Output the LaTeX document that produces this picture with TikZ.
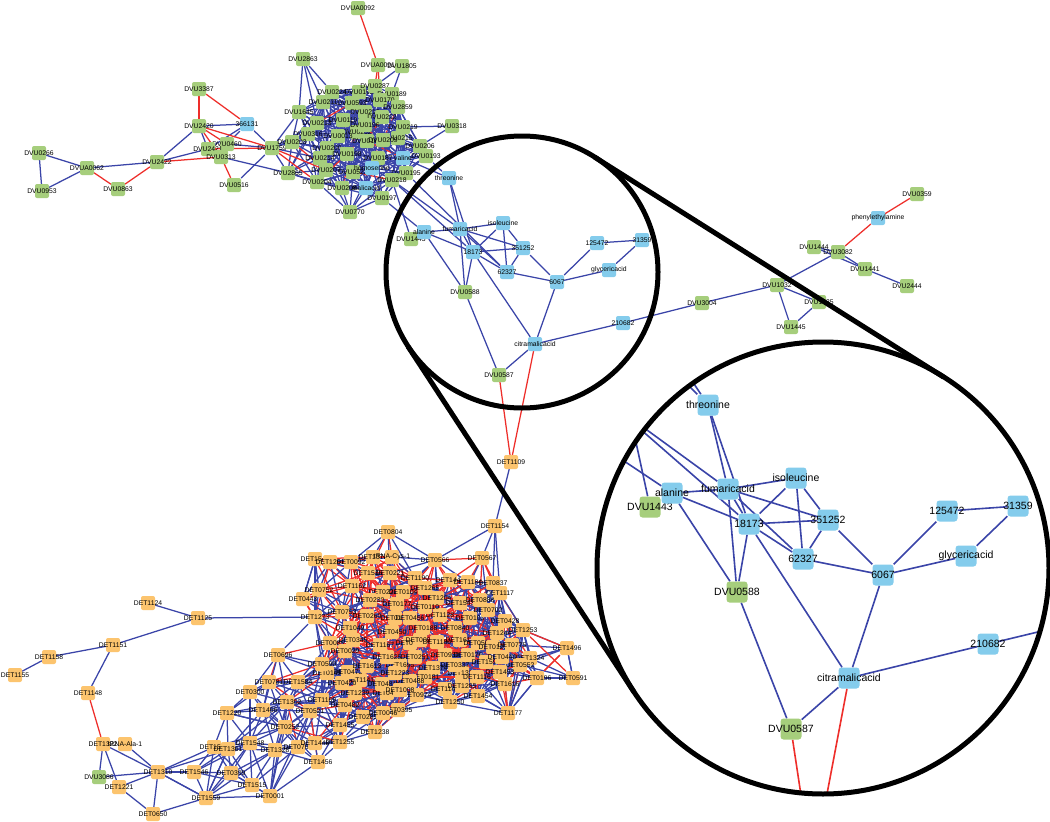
\documentclass[tikz,border=0pt]{standalone}
\usepackage{fontspec}
\setmainfont{Liberation Sans}
\usetikzlibrary{calc}
\definecolor{ngreen}{RGB}{166,206,124}
\definecolor{nblue}{RGB}{132,204,236}
\definecolor{norange}{RGB}{252,196,110}
\definecolor{eblue}{RGB}{58,68,168}
\definecolor{ered}{RGB}{238,46,42}
\pgfdeclarelayer{paper}
\pgfdeclarelayer{background}
\pgfsetlayers{paper,background,main}
\tikzset{
  slbl/.style={font=\fontsize{6.8}{7}\selectfont, inner sep=0pt, text=black},
  mlbl/.style={font=\fontsize{10.5}{12}\selectfont, inner sep=0pt, text=black},
  nd/.style={rectangle, rounded corners=2pt, minimum size=14pt, inner sep=0pt, draw=none},
  gn/.style={nd, fill=ngreen, label={[slbl]center:#1}},
  bn/.style={nd, fill=nblue, label={[slbl]center:#1}},
  on/.style={nd, fill=norange, label={[slbl]center:#1}},
  md/.style={rectangle, rounded corners=3pt, minimum size=21pt, inner sep=0pt, draw=none},
  mg/.style={md, fill=ngreen, label={[mlbl]center:#1}},
  mb/.style={md, fill=nblue, label={[mlbl]center:#1}},
  edge/.style={line width=1.25pt, line cap=round},
  be/.style={edge, draw=eblue},
  re/.style={edge, draw=ered},
  mbe/.style={line width=1.6pt, draw=eblue},
  mre/.style={line width=1.6pt, draw=ered},
  lens/.style={line width=5pt, draw=black}
}
\begin{document}
\begin{tikzpicture}[x=1pt,y=-1pt]
\useasboundingbox (0,0) rectangle (1050,822);
\begin{pgfonlayer}{paper}
\fill[white] (0,0) rectangle (1050,822);
\end{pgfonlayer}

% ---------- top-left satellites ----------
\node[gn=DVU3387] (DVU3387) at (199,89) {};
\node[bn=366131] (n366131) at (247,124) {};
\node[gn=DVU2420] (DVU2420) at (199,126) {};
\node[gn=DVU0460] (DVU0460) at (227,144) {};
\node[gn=DVU2421] (DVU2421) at (208,149) {};
\node[gn=DVU0313] (DVU0313) at (221,157) {};
\node[gn=DVU1759] (DVU1759) at (272,148) {};
\node[gn=DVU0516] (DVU0516) at (234,185) {};
\node[gn=DVU2422] (DVU2422) at (157,162) {};
\node[gn=DVUA0062] (DVUA0062) at (87,168) {};
\node[gn=DVU0266] (DVU0266) at (39,153) {};
\node[gn=DVU0953] (DVU0953) at (42,191) {};
\node[gn=DVU0863] (DVU0863) at (118,189) {};
\node[gn=DVU2863] (DVU2863) at (303,59) {};
\node[gn=DVUA0092] (DVUA0092) at (358,8) {};
\node[gn=DVUA0091] (DVUA0091) at (378,65) {};
\node[gn=DVU1805] (DVU1805) at (402,66) {};
\node[gn=DVU0318] (DVU0318) at (452,126) {};

% ---------- top dense cluster ----------
\foreach \x/\y/\t/\c [count=\n] in {
332/92/DVU0224/ngreen, 359/92/DVU0192/ngreen, 375/86/DVU0287/ngreen, 392/94/DVU0189/ngreen,
323/102/DVU0211/ngreen, 352/103/DVU0593/ngreen, 380/100/DVU0170/ngreen, 398/107/DVU2859/ngreen,
299/112/DVU1645/ngreen, 365/112/DVU0212/ngreen, 343/120/DVU0110/ngreen, 382/117/DVU0222/ngreen,
317/123/DVU0213/ngreen, 403/127/DVU0219/ngreen, 308/134/DVU0316/ngreen, 357/132/DVU0202/ngreen,
338/136/DVU0013/ngreen, 398/138/DVU0215/ngreen, 367/141/DVU0188/ngreen, 383/140/DVU0209/ngreen,
292/142/DVU0203/ngreen, 420/146/DVU0206/ngreen, 327/148/DVU0200/ngreen, 426/156/DVU0193/ngreen,
320/158/DVU0214/ngreen, 347/154/DVU0198/ngreen, 378/158/DVU0187/ngreen, 326/170/DVU0207/ngreen,
353/172/DVU0523/ngreen, 288/173/DVU2865/ngreen, 406/173/DVU0195/ngreen, 392/180/DVU0218/ngreen,
317/182/DVU0204/ngreen, 342/188/DVU0208/ngreen, 382/198/DVU0197/ngreen, 350/212/DVU0770/ngreen,
365/125/DVU0196/ngreen, 403/158/valine/nblue, 372/168/homoserine/nblue, 366/188/malicacid/nblue}{
  \node[nd, fill=\c, label={[slbl]center:\t}] (\t) at (\x,\y) {};
  \expandafter\xdef\csname tX\n\endcsname{\x}
  \expandafter\xdef\csname tY\n\endcsname{\y}
  \expandafter\xdef\csname tN\n\endcsname{\t}
  \xdef\tcount{\n}
}

% ---------- right group ----------
\node[gn=DVU0359] (DVU0359) at (917,194) {};
\node[bn=phenylethylamine] (phen) at (878,218) {};
\node[gn=DVU1444] (DVU1444) at (814,247) {};
\node[gn=DVU3082] (DVU3082) at (838,252) {};
\node[gn=DVU1441] (DVU1441) at (865,269) {};
\node[gn=DVU2444] (DVU2444) at (907,286) {};
\node[gn=DVU1032] (DVU1032) at (777,285) {};
\node[gn=DVU1035] (DVU1035) at (819,302) {};
\node[gn=DVU1445] (DVU1445) at (791,327) {};
\node[gn=DVU3004] (DVU3004) at (702,303) {};

% ---------- small circle nodes ----------
\node[gn=DVU1443] (s1443) at (411,239) {};
\node[bn=alanine] (sala) at (424,232) {};
\node[bn=threonine] (sthr) at (449,178) {};
\node[bn=fumaricacid] (sfum) at (460,229) {};
\node[bn=isoleucine] (siso) at (503,223) {};
\node[bn=18173] (s18173) at (473,252) {};
\node[bn=351252] (s351252) at (523,248) {};
\node[bn=62327] (s62327) at (507,272) {};
\node[bn=6067] (s6067) at (557,282) {};
\node[bn=125472] (s125472) at (597,243) {};
\node[bn=31359] (s31359) at (642,240) {};
\node[bn=glycericacid] (sgly) at (609,270) {};
\node[gn=DVU0588] (s0588) at (465,292) {};
\node[bn=210682] (s210682) at (623,323) {};
\node[bn=citramalicacid] (scit) at (535,344) {};
\node[gn=DVU0587] (s0587) at (499,375) {};

% ---------- bottom satellites ----------
\node[on=DET1109] (DET1109) at (511,462) {};
\node[on=DET1154] (DET1154) at (495,526) {};
\node[on=DET1124] (DET1124) at (148,603) {};
\node[on=DET1125] (DET1125) at (198,618) {};
\node[on=DET1151] (DET1151) at (113,645) {};
\node[on=DET1158] (DET1158) at (49,657) {};
\node[on=DET1155] (DET1155) at (15,675) {};
\node[on=DET1148] (DET1148) at (88,693) {};
\node[on=DET1322] (DET1322) at (103,744) {};
\node[on=tRNA-Ala-1] (tRNA-Ala-1) at (125,744) {};
\node[gn=DVU3086] (DVU3086) at (99,777) {};
\node[on=DET1221] (DET1221) at (119,787) {};
\node[on=DET0650] (DET0650) at (153,814) {};

% ---------- bottom dense cluster ----------
\foreach \x/\y/\t [count=\n] in {
388/532/DET0804, 315/559/DET1544, 330/562/DET1261, 351/562/DET0092, 373/557/DET1372,
392/557/tRNA-Cys-1, 435/560/DET0566, 482/558/DET0567, 368/573/DET1535, 390/573/DET0221,
319/590/DET0752, 352/586/DET1162, 303/599/DET0443, 383/592/DET0222, 403/592/DET0104,
425/588/DET1265, 450/580/DET1447, 468/582/DET1184, 493/583/DET0837, 500/593/DET1117,
397/604/DET0177, 460/603/DET1543, 437/598/DET1204, 315/617/DET1273, 342/612/DET0753,
367/616/DET0260, 395/618/DET0174, 440/615/DET1128, 505/621/DET0428, 523/630/DET1253,
470/618/DET0103, 488/610/DET0702, 392/632/DET0450, 423/628/DET0188, 455/628/DET0840,
497/633/DET1244, 353/640/DET0345, 410/643/DET0955, 460/640/DET1617, 478/643/DET0569,
493/647/DET0123, 530/658/DET1324, 567/648/DET1496, 573/678/DET0591, 537/678/DET0196,
520/665/DET0552, 380/645/DET1167, 400/665/DET1695, 415/657/DET0251, 433/668/DET1374,
468/655/DET0176, 486/662/DET1591, 502/657/DET0440, 500/672/DET1453, 505/684/DET1616,
478/696/DET1454, 508/713/DET1177, 450/702/DET1250, 445/689/DET1142, 462/673/DET1329,
477/677/DET1116, 462/686/DET1285, 425/677/DET0181, 417/695/DET0974, 398/710/DET0395,
375/732/DET1238, 363/717/DET0285, 340/725/DET1455, 383/713/DET0046, 345/705/DET0482,
355/693/DET1239, 387/693/DET0476, 360/680/DET1141, 382/684/DET0481, 342/683/DET0420,
348/672/DET0473, 327/673/DET0145, 322/664/DET0590, 367/666/DET1613, 387/657/DET1625,
410/681/DET0488, 395/673/DET1223, 278/655/DET0696, 269/682/DET0781, 298/682/DET1584,
250/692/DET0300, 287/702/DET1302, 263/710/DET1466, 310/711/DET0521, 227/713/DET1220,
285/727/DET0252, 250/743/DET1548, 275/750/DET1328, 298/747/DET0762, 315/743/DET1448,
340/742/DET1255, 318/762/DET1456, 322/700/DET1169, 214/747/DET1567, 228/749/DET1361,
231/773/DET0309, 252/785/DET1515, 270/796/DET0001, 194/772/DET1546, 206/798/DET1559,
158/772/DET1310, 330/643/DET0085, 345/651/DET0029, 420/640/DET0096, 437/642/DET1180,
410/618/DET0456, 445/655/DET0930, 425/607/DET0110, 455/665/DET0337, 400/690/DET1008,
350/628/DET1049, 370/600/DET0230, 415/578/DET1190, 480/600/DET0888, 512/645/DET0775}{
  \node[on=\t] (\t) at (\x,\y) {};
  \expandafter\xdef\csname bX\n\endcsname{\x}
  \expandafter\xdef\csname bY\n\endcsname{\y}
  \expandafter\xdef\csname bN\n\endcsname{\t}
  \xdef\bcount{\n}
}

% ---------- magnified nodes ----------
\node[mg=DVU1443] (m1443) at (650,507) {};
\node[mb=alanine] (mala) at (672,493) {};
\node[mb=threonine] (mthr) at (708,405) {};
\node[mb=fumaricacid] (mfum) at (728,489) {};
\node[mb=isoleucine] (miso) at (796,478) {};
\node[mb=18173] (m18173) at (749,524) {};
\node[mb=351252] (m351252) at (828,520) {};
\node[mb=62327] (m62327) at (803,559) {};
\node[mb=6067] (m6067) at (883,575) {};
\node[mb=125472] (m125472) at (947,511) {};
\node[mb=31359] (m31359) at (1018,506) {};
\node[mb=glycericacid] (mgly) at (966,556) {};
\node[mg=DVU0588] (m0588) at (737,592) {};
\node[mb=210682] (m210682) at (988,644) {};
\node[mb=citramalicacid] (mcit) at (849,678) {};
\node[mg=DVU0587] (m0587) at (791,729) {};
\coordinate (mx1) at (628,325);
\coordinate (mx2) at (655,325);
\coordinate (mx3) at (537,403);
\coordinate (mx4) at (624,387);
\coordinate (mx5) at (566,371);
\coordinate (mx6) at (545,346);
\coordinate (mx7) at (1100,617);
\coordinate (mx8) at (804,815);
\coordinate (mx9) at (823,815);

% ---------- edges ----------
\begin{pgfonlayer}{background}
% top cluster, by proximity
\foreach \i in {1,...,\tcount}{%
  \foreach \j in {1,...,\tcount}{%
    \ifnum\j>\i\relax
      \edef\xa{\csname tX\i\endcsname}\edef\xb{\csname tX\j\endcsname}%
      \edef\ya{\csname tY\i\endcsname}\edef\yb{\csname tY\j\endcsname}%
      \ifnum\numexpr(\xa-\xb)*(\xa-\xb)+(\ya-\yb)*(\ya-\yb)\relax<3364\relax
        \edef\hv{\the\numexpr\i*\j*7+\i*13+\j*29\relax}%
        \edef\hv{\the\numexpr\hv-((\hv-50)/100)*100\relax}%
        \ifnum\hv<5\relax\def\ec{ered}\else\def\ec{eblue}\fi
        \draw[edge,draw=\ec] (\csname tN\i\endcsname) -- (\csname tN\j\endcsname);
      \fi
    \fi
  }%
}
% bottom cluster, by proximity
\foreach \i in {1,...,\bcount}{%
  \foreach \j in {1,...,\bcount}{%
    \ifnum\j>\i\relax
      \edef\xa{\csname bX\i\endcsname}\edef\xb{\csname bX\j\endcsname}%
      \edef\ya{\csname bY\i\endcsname}\edef\yb{\csname bY\j\endcsname}%
      \ifnum\numexpr(\xa-\xb)*(\xa-\xb)+(\ya-\yb)*(\ya-\yb)\relax<3600\relax
        \edef\mx{\the\numexpr(\xa+\xb)/2\relax}%
        \edef\my{\the\numexpr(\ya+\yb)/2\relax}%
        \edef\hv{\the\numexpr\i*\j*7+\i*13+\j*29\relax}%
        \edef\hv{\the\numexpr\hv-((\hv-50)/100)*100\relax}%
        \def\pp{24}%
        \ifnum\my<655\relax\ifnum\mx<480\relax\def\pp{55}\fi\fi
        \ifnum\mx<300\relax\ifnum\my>690\relax\def\pp{8}\fi\fi
        \ifnum\hv<\pp\relax\def\ec{ered}\else\def\ec{eblue}\fi
        \draw[edge,draw=\ec] (\csname bN\i\endcsname) -- (\csname bN\j\endcsname);
      \fi
    \fi
  }%
}
% explicit blue edges
\foreach \a/\b in {DVU0266/DVU0953, DVU0266/DVUA0062, DVU0953/DVUA0062, DVUA0062/DVU2422,
  DVU2422/DVU2420, DVU2422/DVU2421, DVU2420/n366131, DVU2420/DVU2421, n366131/DVU0460,
  n366131/DVU1759, n366131/DVU2421, DVU0460/DVU1759, DVU0516/DVU1759, DVU0313/DVU2865,
  DVU1759/DVU1645, DVU1759/DVU0213, DVU1759/DVU0316, DVU1759/DVU0203, DVU1759/DVU2865,
  DVU1759/DVU0214, DVU2863/DVU0224, DVU2863/DVU0211, DVU2863/DVU1645, DVU2863/DVU0213,
  DVU1805/DVU0189, DVU1805/DVU0287, DVU0318/DVU0219, DVU0318/DVU0206,
  valine/sthr, DVU0193/sthr, DVU0197/sala, DVU0218/s1443, DVU0218/sfum, DVU0218/s18173,
  DVU0195/s62327,
  sthr/sfum, sthr/s18173, sala/sfum, sala/s18173, sala/s0588, sfum/siso, sfum/s351252,
  sfum/s62327, sfum/s0588, sfum/s18173, siso/s18173, siso/s62327, siso/s351252,
  s18173/s351252, s18173/s62327, s18173/s0588, s18173/scit, s351252/s62327, s351252/s6067,
  s62327/s6067, s6067/s125472, s6067/sgly, s6067/scit, s125472/s31359, s31359/sgly,
  scit/s210682, scit/s0587, s0588/s0587, s210682/DVU3004, DVU3004/DVU1032,
  DVU1444/DVU3082, DVU1444/DVU1441, DVU3082/DVU1441, DVU1441/DVU2444, DVU3082/DVU1032,
  DVU1032/DVU1035, DVU1032/DVU1445, DVU1445/DVU1035,
  DET1109/DET1154, DET1154/DET0566, DET1154/DET0567, DET1154/DET0837, DET1154/DET1117,
  DET1124/DET1125, DET1125/DET1151, DET1125/DET1273, DET1151/DET1158, DET1158/DET1155,
  DET1151/DET1148, DET1322/DVU3086, DET1322/DET1221, DET1322/DET1310, tRNA-Ala-1/DET1310,
  DVU3086/DET1310, DET1221/DET1310, DET1221/DET0650, DET1310/DET0650, DET0650/DET1559,
  DET1310/DET1567, DET1310/DET1559, DET1310/DET1548, DET1559/DET1361, DET1559/DET0001,
  DET1559/DET1548, DET1559/DET1328, DET1546/DET1548, DET1177/DET0196, DET1177/DET1324,
  DET1177/DET0552, DET1177/DET1253, DET1253/DET1324, DET1496/DET1324, DET1496/DET0591,
  DET1220/DET1302, DET1220/DET0252, DET0001/DET0252, DET0001/DET1302, DET0001/DET0521,
  DET0443/DET1544, DET1567/DET0252, DET1361/DET1302}
  \draw[be] (\a) -- (\b);
% explicit red edges
\foreach \a/\b in {DVUA0062/DVU0863, DVU0863/DVU2422, DVU2422/DVU0313, DVU3387/DVU2420,
  DVU3387/n366131, DVU2420/DVU1759, DVU2420/DVU0460, DVU2420/DVU0313, DVU2421/DVU1759,
  DVU0313/DVU0516, DVUA0092/DVUA0091, DVUA0091/DVU0287, DVUA0091/DVU0170,
  DVU1759/DVU0207, DVU1759/DVU0204, phen/DVU0359, phen/DVU3082,
  s0587/DET1109, scit/DET1109, DET1148/DET1322, DET1253/DET0591, DET1496/DET0196,
  DET1253/DET1496}
  \draw[re] (\a) -- (\b);
% magnified edges, clipped to the lens
\begin{scope}
  \clip (823,568) circle[radius=226pt];
  \foreach \a/\b in {mthr/mfum, mthr/m18173, mala/mfum, mala/m18173, mala/m0588, mfum/miso,
    mfum/m351252, mfum/m62327, mfum/m0588, mfum/m18173, miso/m18173, miso/m62327,
    miso/m351252, m18173/m351252, m18173/m62327, m18173/m0588, m18173/mcit,
    m351252/m62327, m351252/m6067, m62327/m6067, m6067/m125472, m6067/mgly, m6067/mcit,
    m125472/m31359, m31359/mgly, mcit/m210682, mcit/m0587, m0588/m0587,
    mx1/mthr, mx2/mthr, mx3/mala, mx4/m1443, mx5/mfum, mx6/m18173, m210682/mx7}
    \draw[mbe] (\a) -- (\b);
  \draw[mre] (m0587) -- (mx8);
  \draw[mre] (mcit) -- (mx9);
\end{scope}
\end{pgfonlayer}

% ---------- lens ----------
\draw[lens] (522,272) circle[radius=136pt];
\draw[lens] (823,568) circle[radius=226pt];
\draw[lens] (594.5,157) -- (943.5,377);
\draw[lens] (408,346.5) -- (634,692);
\end{tikzpicture}
\end{document}
